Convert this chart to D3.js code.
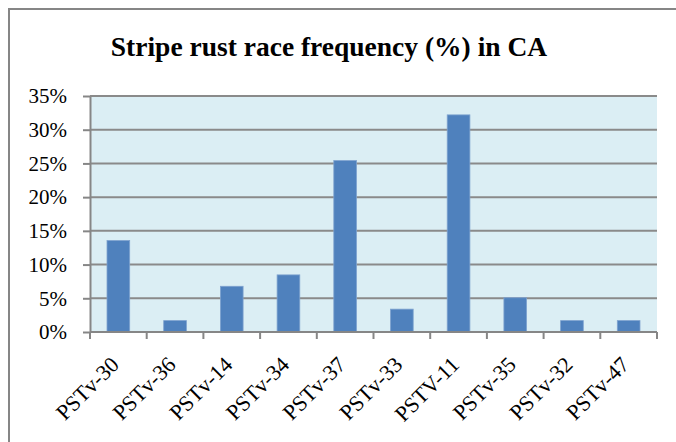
<!DOCTYPE html>
<html>
<head>
<meta charset="utf-8">
<script src="https://cdn.jsdelivr.net/npm/d3@7"></script>
<style>
  body { margin: 0; background: #fff; }
  svg { display: block; font-family: 'Liberation Serif', 'Times New Roman', serif; }
</style>
</head>
<body>
<svg width="676" height="442"></svg>
<script>
const races = ['PSTv-30', 'PSTv-36', 'PSTv-14', 'PSTv-34', 'PSTv-37', 'PSTv-33', 'PSTV-11', 'PSTv-35', 'PSTv-32', 'PSTv-47'];
const freq = [13.56, 1.69, 6.78, 8.47, 25.42, 3.39, 32.2, 5.08, 1.69, 1.69];
const yTicks = [0, 5, 10, 15, 20, 25, 30, 35];

const data = races.map((race, i) => ({ race, value: freq[i] }));

const MARGINS = { left: 90, right: 19, top: 96, bottom: 110 };
const W = 676, H = 442;
const plotW = W - MARGINS.left - MARGINS.right;
const plotH = H - MARGINS.top - MARGINS.bottom;

const x = d3.scaleBand().domain(races).range([0, plotW]).paddingInner(0.6).paddingOuter(0.3);
const xCat = d3.scaleBand().domain(races).range([0, plotW]);
const y = d3.scaleLinear().domain([0, 35]).range([plotH, 0]);

const svg = d3.select('svg');

// outer frame (only top/left visible in the picture)
svg.append('rect')
  .attr('x', 9).attr('y', 9)
  .attr('width', 800).attr('height', 600)
  .attr('fill', 'none')
  .attr('stroke', '#868686')
  .attr('stroke-width', 2);

svg.append('text')
  .attr('x', 329).attr('y', 56)
  .attr('text-anchor', 'middle')
  .attr('font-weight', 'bold')
  .attr('font-size', 27.5)
  .text('Stripe rust race frequency (%) in CA');

const chart = svg.append('g').attr('transform', `translate(${MARGINS.left},${MARGINS.top})`);

chart.append('rect')
  .attr('width', plotW).attr('height', plotH)
  .attr('fill', '#dbeef4');

// gridlines
chart.selectAll('.grid')
  .data(yTicks.filter((t) => t > 0))
  .enter()
  .append('line')
  .classed('grid', true)
  .attr('x1', 0).attr('x2', plotW)
  .attr('y1', (d) => y(d)).attr('y2', (d) => y(d))
  .attr('stroke', '#8a8a8a')
  .attr('stroke-width', 2);

chart.selectAll('.bar')
  .data(data)
  .enter()
  .append('rect')
  .classed('bar', true)
  .attr('x', (d) => x(d.race))
  .attr('y', (d) => y(d.value))
  .attr('width', x.bandwidth())
  .attr('height', (d) => plotH - y(d.value))
  .attr('fill', '#4f81bd')
  .attr('stroke', '#7ea2cf')
  .attr('stroke-width', 0.8);

// y axis
const yAxis = chart.append('g')
  .call(d3.axisLeft(y).tickValues(yTicks).tickFormat((d) => d + '%').tickSize(7).tickSizeOuter(0).tickPadding(16));
yAxis.select('.domain').attr('stroke', '#868686').attr('stroke-width', 2);
yAxis.selectAll('.tick line').attr('stroke', '#868686').attr('stroke-width', 2);
yAxis.selectAll('.tick text')
  .attr('font-family', "'Liberation Serif', 'Times New Roman', serif")
  .attr('font-size', 21)
  .attr('fill', '#000');

// x axis: ticks at category boundaries
const xAxisG = chart.append('g').attr('transform', `translate(0,${plotH})`);
xAxisG.append('line')
  .attr('x1', 0).attr('x2', plotW)
  .attr('stroke', '#868686').attr('stroke-width', 2);
xAxisG.selectAll('.xtick')
  .data(races.concat(['end']))
  .enter()
  .append('line')
  .classed('xtick', true)
  .attr('x1', (d) => (d === 'end' ? plotW : xCat(d)))
  .attr('x2', (d) => (d === 'end' ? plotW : xCat(d)))
  .attr('y1', 0).attr('y2', 7)
  .attr('stroke', '#868686').attr('stroke-width', 2);

xAxisG.selectAll('.xlabel')
  .data(races)
  .enter()
  .append('text')
  .classed('xlabel', true)
  .attr('text-anchor', 'end')
  .attr('font-size', 22)
  .attr('transform', (d) => `translate(${xCat(d) + xCat.bandwidth() / 2 + 2},${34}) rotate(-45)`)
  .text((d) => d);
</script>
</body>
</html>
